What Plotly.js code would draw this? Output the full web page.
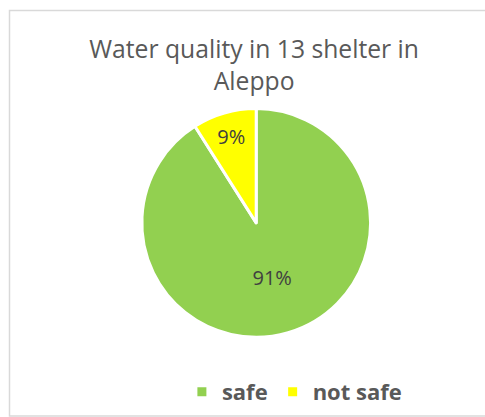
<!DOCTYPE html>
<html>
<head>
<meta charset="utf-8">
<script src="https://cdn.plot.ly/plotly-3.0.1.min.js"></script>
<style>
  html, body { margin: 0; padding: 0; background: #ffffff; }
  #chart { width: 485px; height: 417px; }
</style>
</head>
<body>
<div id="chart"></div>
<script>
const titleText = "Water quality in 13 shelter in<br>Aleppo";
const categories = ["safe", "not safe"];
const values = [91, 9];
const colors = ["#92D050", "#FFFF00"];

const W = 485, H = 417;
const px = v => v / W;
const py = v => 1 - v / H;

const trace = {
  type: "pie",
  labels: categories,
  values: values,
  sort: false,
  direction: "clockwise",
  rotation: 0,
  marker: { colors: colors, line: { color: "#ffffff", width: 3 } },
  textinfo: "percent",
  texttemplate: "%{percent:.0%}",
  textposition: "inside",
  insidetextorientation: "horizontal",
  textfont: { family: "Open Sans", size: 20, color: "#404040" },
  hoverinfo: "label+percent",
  domain: { x: [px(141.8), px(370.6)], y: [py(337.2), py(108.5)] }
};

const layout = {
  width: W,
  height: H,
  margin: { l: 0, r: 0, t: 0, b: 0 },
  paper_bgcolor: "#ffffff",
  plot_bgcolor: "#ffffff",
  title: {
    text: titleText,
    font: { family: "Open Sans", size: 24.7, color: "#595959" },
    x: 0.524,
    xanchor: "center",
    y: py(58),
    yanchor: "top",
    yref: "container"
  },
  showlegend: true,
  legend: {
    orientation: "h",
    x: 0.607,
    xanchor: "center",
    y: py(371),
    yanchor: "top",
    font: { family: "Open Sans", size: 22, color: "#595959", weight: "bold" },
    traceorder: "normal"
  },
  shapes: [{
    type: "rect",
    xref: "paper", yref: "paper",
    x0: px(9.5), x1: px(490), y0: py(416), y1: py(10.5),
    line: { color: "#D9D9D9", width: 1.5 },
    fillcolor: "rgba(0,0,0,0)",
    layer: "below"
  }]
};

Plotly.newPlot("chart", [trace], layout, { displayModeBar: false, staticPlot: true });
</script>
</body>
</html>
